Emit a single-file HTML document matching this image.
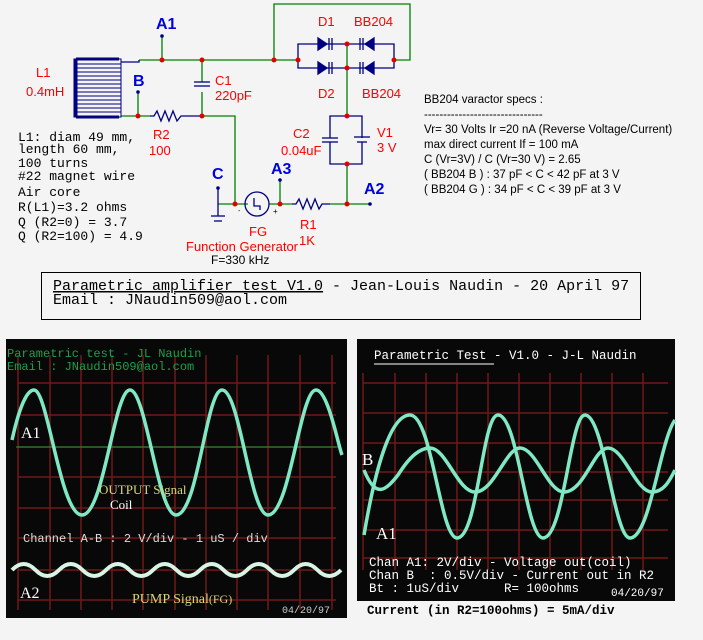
<!DOCTYPE html>
<html><head><style>
body{margin:0;background:#f4f4f4;}
svg{display:block;}
.r{fill:#f00;font-family:"Liberation Sans",sans-serif;font-size:13px;}
.b{fill:#0000e0;font-family:"Liberation Sans",sans-serif;font-size:16px;font-weight:bold;}
.m{fill:#000;font-family:"Liberation Mono",monospace;font-size:13px;}
.s{fill:#000;font-family:"Liberation Sans",sans-serif;font-size:11.5px;}
.g{stroke:#008000;stroke-width:1.3;fill:none;}
.n{stroke:#000080;stroke-width:1.3;fill:none;}
.scr{font-family:"Liberation Mono",monospace;}
text{white-space:pre;}
</style></head><body>
<svg width="703" height="640" viewBox="0 0 703 640" xmlns="http://www.w3.org/2000/svg" xml:space="preserve">
<rect width="703" height="640" fill="#f4f4f4"/>
<g class="g">
<polyline points="139,60 162,60 274,60 298,60"/>
<line x1="162" y1="36" x2="162" y2="60"/>
<polyline points="274,60 274,4 410,4 410,60 394,60"/>
<line x1="202" y1="60" x2="202" y2="82"/>
<line x1="202" y1="92" x2="202" y2="116"/>
<line x1="138" y1="92" x2="138" y2="116"/>
<line x1="121" y1="116" x2="150" y2="116"/>
<polyline points="202,116 235,116 235,204 248,204"/>
<line x1="218" y1="204" x2="235" y2="204"/>
<line x1="347" y1="44" x2="347" y2="116"/>
<line x1="347" y1="164" x2="347" y2="204"/>
<line x1="330" y1="204" x2="370" y2="204"/>
<line x1="280" y1="180" x2="280" y2="204"/>
<line x1="269" y1="204" x2="292" y2="204"/>
</g>
<g class="n">
<polyline points="185,116 202,116"/>
<polyline points="150,116 154,116 157,111 161,121 165,111 169,121 173,111 177,121 181,116 185,116"/>
<polyline points="292,204 296,204 299,199 303,209 307,199 311,209 315,199 319,209 322,204 330,204"/>
<line x1="194" y1="82" x2="210" y2="82"/><line x1="194" y1="86" x2="210" y2="86"/>
<polyline points="298,60 298,44 347,44 394,44 394,68 347,68 298,68 298,60"/>
<polyline points="330,138 330,116 362,116 362,138"/>
<polyline points="330,142 330,164 362,164 362,142"/>
<line x1="322" y1="138" x2="338" y2="138"/><line x1="322" y1="142" x2="338" y2="142"/>
<line x1="354" y1="137" x2="370" y2="137"/><line x1="357" y1="142" x2="367" y2="142"/>
<line x1="218" y1="188" x2="218" y2="216"/><line x1="211" y1="216" x2="225" y2="216"/><line x1="214" y1="221" x2="222" y2="221"/>
<circle cx="257" cy="204" r="12" fill="none"/>
<polyline points="254,198 254,206 260,206 260,210"/>
<polyline points="121,62 139,62 139,60"/>
</g>
<g fill="#000080" stroke="#000080" stroke-width="1.3">
<polygon points="318,38 318,50 327,44"/><line x1="329" y1="38" x2="329" y2="50"/><line x1="332" y1="38" x2="332" y2="50" />
<polygon points="318,62 318,74 327,68"/><line x1="329" y1="62" x2="329" y2="74"/><line x1="332" y1="62" x2="332" y2="74"/>
<polygon points="374,38 374,50 365,44"/><line x1="363" y1="38" x2="363" y2="50"/><line x1="360" y1="38" x2="360" y2="50"/>
<polygon points="374,62 374,74 365,68"/><line x1="363" y1="62" x2="363" y2="74"/><line x1="360" y1="62" x2="360" y2="74"/>
</g>
<g stroke="#000080" fill="none" stroke-width="1">
<rect x="74" y="59" width="47" height="58"/>
<line x1="76" y1="59" x2="119" y2="59" stroke-width="3"/><line x1="76" y1="117" x2="119" y2="117" stroke-width="3"/>
<line x1="76" y1="59" x2="76" y2="117" stroke-width="3"/>
<path d="M74,64H121M74,68H121M74,72H121M74,76H121M74,80H121M74,84H121M74,88H121M74,92H121M74,96H121M74,100H121M74,104H121M74,108H121M74,112H121"/>
</g>
<g fill="#e00000">
<circle cx="162" cy="60" r="2.5"/><circle cx="202" cy="60" r="2.5"/><circle cx="274" cy="60" r="2.5"/><circle cx="298" cy="60" r="2.5"/><circle cx="394" cy="60" r="2.5"/>
<circle cx="347" cy="44" r="2.5"/><circle cx="347" cy="68" r="2.5"/><circle cx="347" cy="116" r="2.5"/><circle cx="347" cy="164" r="2.5"/><circle cx="347" cy="204" r="2.5"/>
<circle cx="138" cy="116" r="2.5"/><circle cx="202" cy="116" r="2.5"/><circle cx="235" cy="204" r="2.5"/><circle cx="280" cy="204" r="2.5"/>
</g>
<g fill="#000080"><circle cx="162" cy="36" r="1.8"/><circle cx="138" cy="92" r="1.8"/><circle cx="218" cy="188" r="1.8"/><circle cx="280" cy="180" r="1.8"/><circle cx="370" cy="204" r="1.8"/></g>
<text class="b" x="156" y="29">A1</text><text class="b" x="133" y="86">B</text><text class="b" x="212" y="179">C</text><text class="b" x="271" y="174">A3</text><text class="b" x="364" y="194">A2</text>
<g class="r">
<text x="36" y="77">L1</text><text x="26" y="96">0.4mH</text><text x="215" y="85">C1</text><text x="215" y="100">220pF</text>
<text x="153" y="139">R2</text><text x="149" y="155">100</text><text x="293" y="138">C2</text><text x="281" y="155">0.04uF</text>
<text x="377" y="137">V1</text><text x="377" y="152">3 V</text><text x="318" y="26">D1</text><text x="354" y="26">BB204</text>
<text x="318" y="98">D2</text><text x="362" y="98">BB204</text><text x="249" y="236">FG</text><text x="186" y="251">Function Generator</text>
<text x="300" y="229">R1</text><text x="299" y="245">1K</text>
</g>
<text x="211" y="264" class="s" style="font-size:12px">F=330 kHz</text>
<text x="238" y="213" font-size="7" font-family="Liberation Sans">-</text><text x="273" y="214" font-size="8" font-family="Liberation Sans">+</text>
<g class="m">
<text x="18" y="141">L1: diam 49 mm,</text><text x="18" y="153">length 60 mm,</text><text x="18" y="167">100 turns</text>
<text x="18" y="180">#22 magnet wire</text><text x="18" y="196">Air core</text><text x="18" y="211">R(L1)=3.2 ohms</text>
<text x="18" y="226">Q (R2=0) = 3.7</text><text x="18" y="240">Q (R2=100) = 4.9</text>
</g>
<g class="s">
<text x="424" y="103">BB204 varactor specs :</text><text x="424" y="118">-------------------------------</text>
<text x="424" y="133">Vr= 30 Volts Ir =20 nA (Reverse Voltage/Current)</text><text x="424" y="148">max direct current If = 100 mA</text>
<text x="424" y="163">C (Vr=3V) / C (Vr=30 V) = 2.65</text><text x="424" y="178">( BB204 B ) : 37 pF &lt; C &lt; 42 pF at 3 V</text>
<text x="424" y="193">( BB204 G ) : 34 pF &lt; C &lt; 39 pF at 3 V</text>
</g>
<rect x="41.5" y="272.5" width="599" height="47" fill="none" stroke="#000"/>
<text x="53" y="290" class="m" style="font-size:15px"><tspan text-decoration="underline">Parametric amplifier test V1.0</tspan> - Jean-Louis Naudin - 20 April 97</text>
<text x="53" y="304" class="m" style="font-size:15px">Email : JNaudin509@aol.com</text>
<rect x="6" y="339" width="341" height="279" fill="#080808"/>
<g stroke="#701818" stroke-width="1.5">
<path d="M18,383H336M18,415H336M18,447H336M18,477H336M18,508H336M18,538H336M18,570H336M18,600H336"/>
<path d="M18,355V610M50,355V610M81,355V610M112,355V610M143,355V610M175,355V610M206,355V610M237,355V610M268,355V610M300,355V610M332,355V610"/>
</g>
<line x1="16" y1="447" x2="338" y2="447" stroke="#1a9a3a" stroke-width="1"/>
<path d="M12,440 C22,395 30,390 34,390 C48,390 60,515 82,515 C104,515 114,390 130,390 C146,390 158,515 176,515 C198,515 206,390 222,390 C240,390 250,515 268,515 C290,515 300,390 316,390 C328,390 338,445 342,455" fill="none" stroke="#7fe8c4" stroke-width="3.5"/>
<path d="M12,570 q11.75,-12 23.5,0 q11.75,12 23.5,0 q11.75,-12 23.5,0 q11.75,12 23.5,0 q11.75,-12 23.5,0 q11.75,12 23.5,0 q11.75,-12 23.5,0 q11.75,12 23.5,0 q11.75,-12 23.5,0 q11.75,12 23.5,0 q11.75,-12 23.5,0 q11.75,12 23.5,0 q11.75,-12 23.5,0 q11.75,12 23.5,0" fill="none" stroke="#d8f4e4" stroke-width="4"/>
<g class="scr">
<text x="7" y="357" fill="#1aa04a" font-size="12">Parametric test - JL Naudin</text>
<text x="7" y="370" fill="#1aa04a" font-size="12">Email : JNaudin509@aol.com</text>
<text x="21" y="438" fill="#fff" font-size="16" font-family="Liberation Serif">A1</text>
<text x="99" y="494" fill="#d6d67a" font-size="13" font-family="Liberation Serif">OUTPUT Signal</text>
<text x="110" y="509" fill="#fff" font-size="13" font-family="Liberation Serif">Coil</text>
<text x="23" y="542" fill="#ddd" font-size="12">Channel A-B : 2 V/div - 1 uS / div</text>
<text x="20" y="598" fill="#fff" font-size="16" font-family="Liberation Serif">A2</text>
<text x="132" y="603" fill="#d6d67a" font-size="14" font-family="Liberation Serif">PUMP Signal<tspan font-size="12">(FG)</tspan></text>
<text x="282" y="613" fill="#ccc" font-size="10">04/20/97</text>
</g>
<rect x="357" y="339" width="318" height="262" fill="#080808"/>
<g stroke="#701818" stroke-width="1.5">
<path d="M363,383H668M363,413H668M363,443H668M363,472H668M363,500H668M363,530H668M363,558H668"/>
<path d="M363,373V570M395,373V570M426,373V570M457,373V570M488,373V570M519,373V570M550,373V570M581,373V570M612,373V570M643,373V570"/>
</g>
<line x1="374" y1="364" x2="494" y2="364" stroke="#fff"/>
<path d="M364,535 C375,470 390,415 410,415 C432,415 440,538 457,538 C478,538 482,415 498,415 C518,415 526,538 543,538 C564,538 570,415 585,415 C604,415 614,538 630,538 C650,538 660,440 675,420" fill="none" stroke="#7fe8c4" stroke-width="3.5"/>
<path d="M364,470 C376,500 386,490 398,475 C410,456 420,448 430,448 C446,448 458,492 475,492 C494,492 506,448 520,448 C536,448 548,492 564,492 C584,492 594,448 608,448 C624,448 636,492 652,492 C664,492 670,480 675,470" fill="none" stroke="#7fe8c4" stroke-width="3.5"/>
<g class="scr" font-size="12.5">
<text x="374" y="359" fill="#fff">Parametric Test - V1.0 - J-L Naudin</text>
<text x="362" y="465" fill="#fff" font-size="17" font-family="Liberation Serif">B</text>
<text x="376" y="539" fill="#fff" font-size="17" font-family="Liberation Serif">A1</text>
<text x="369" y="566" fill="#fff">Chan A1: 2V/div - Voltage out(coil)</text>
<text x="369" y="579" fill="#fff">Chan B  : 0.5V/div - Current out in R2</text>
<text x="369" y="592" fill="#fff">Bt : 1uS/div      R= 100ohms</text>
<text x="611" y="596" fill="#fff" font-size="11">04/20/97</text>
</g>
<text x="367" y="614" class="m" style="font-weight:bold;font-size:12.5px">Current (in R2=100ohms) = 5mA/div</text>
</svg>
</body></html>
